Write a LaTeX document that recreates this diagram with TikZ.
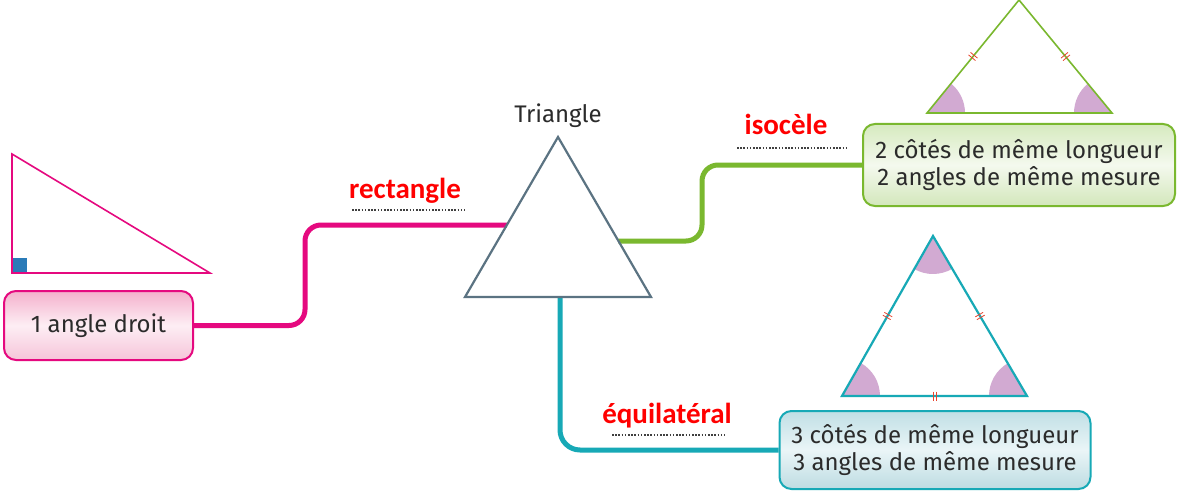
\documentclass[tikz,border=0pt]{standalone}
\usepackage{fontspec}
\setmainfont{Fira Sans}
\newfontfamily\labfont{Carlito}
\usetikzlibrary{calc}
\definecolor{pinkc}{HTML}{E5097F}
\definecolor{pinkt}{HTML}{F4B0CC}
\definecolor{pinkm}{HTML}{FDEEF4}
\definecolor{pinkb}{HTML}{F6C4D9}
\definecolor{greenc}{HTML}{7AB82F}
\definecolor{greent}{HTML}{D6EABF}
\definecolor{greenm}{HTML}{F4F9EE}
\definecolor{greenb}{HTML}{D3E7BB}
\definecolor{tealc}{HTML}{17A9B6}
\definecolor{tealt}{HTML}{C0DFE5}
\definecolor{tealm}{HTML}{EAF5F7}
\definecolor{tealb}{HTML}{BDDCE2}
\definecolor{trig}{HTML}{5B7382}
\definecolor{angc}{HTML}{D2AAD2}
\definecolor{tickc}{HTML}{E8442E}
\definecolor{sqc}{HTML}{2A7BB8}
\definecolor{txt}{HTML}{2B2B2B}
\definecolor{labred}{HTML}{FF0000}
\tikzset{
  box/.style={rounded corners=12, line width=2, text=txt, align=center,
    font=\fontsize{24}{27.5}\selectfont, inner sep=0},
  pinkbox/.style={box, draw=pinkc, top color=pinkt, bottom color=pinkb, middle color=pinkm},
  greenbox/.style={box, draw=greenc, top color=greent, bottom color=greenb, middle color=greenm},
  tealbox/.style={box, draw=tealc, top color=tealt, bottom color=tealb, middle color=tealm},
  conn/.style={line width=5, rounded corners=16},
  lab/.style={text=labred, font=\labfont\bfseries\fontsize{29}{32}\selectfont, anchor=base, inner sep=0},
  dotline/.style={line width=1.6, dash pattern=on 1.6 off 1.6, black!75},
  angfill/.style={fill=angc},
  dtick/.pic={\draw[tickc, line width=0.8] (-1.6,-4.5)--(-1.6,4.5) (1.6,-4.5)--(1.6,4.5);}
}
\begin{document}
\begin{tikzpicture}[x=1pt,y=-1pt]
\useasboundingbox[fill=white] (0,0) rectangle (1177,492);

% main triangle
\coordinate (T1) at (558,137);
\coordinate (T2) at (465,297);
\coordinate (T3) at (651,297);
\coordinate (tl) at ($(T2)!0.45!(T1)$);
\coordinate (tr) at ($(T3)!0.35!(T1)$);
\coordinate (tb) at (560,297);
\node[font=\fontsize{24}{28}\selectfont, text=txt, anchor=base, inner sep=0] (title) at (558,123) {Triangle};

% boxes
\node[pinkbox, minimum width=189, minimum height=69] (rbox) at (98.5,325.5) {1 angle droit};
\node[greenbox, minimum width=312, minimum height=82] (gbox) at (1019,165) {2 côtés de même longueur\\2 angles de même mesure};
\node[tealbox, minimum width=311, minimum height=78] (tbox) at (935,450) {3 côtés de même longueur\\3 angles de même mesure};

% connectors
\draw[conn, pinkc] (rbox.east) -- (305,325.5) -- (305,225) -- (tl);
\draw[conn, greenc] (tr) -- (702,241) -- (702,165) -- (gbox.west);
\draw[conn, tealc, rounded corners=20] (tb) -- (560,450) -- (tbox.west);

\draw[trig, line width=2.2, line join=miter] (T1) -- (T2) -- (T3) -- cycle;

% labels
\node[lab] (lrect) at (405,198) {rectangle};
\draw[dotline] (352,210) -- (465,210);
\node[lab] (liso) at (786,135) {isocèle};
\draw[dotline] (737,148) -- (848,148);
\node[lab] (lequi) at (667,423) {équilatéral};
\draw[dotline] (612,435) -- (725,435);

% right triangle
\fill[sqc] (12,258) rectangle (27,273);
\draw[pinkc, line width=1.6, line join=miter] (12,154) -- (12,273) -- (210,273) -- cycle;

% isosceles triangle
\coordinate (I1) at (1019,0);
\coordinate (I2) at (927,113);
\coordinate (I3) at (1112,113);
\fill[angfill] (I2) -- ++(0:38) arc[start angle=0, end angle=-50.8, radius=38] -- cycle;
\fill[angfill] (I3) -- ++(180:38) arc[start angle=-180, end angle=-129.5, radius=38] -- cycle;
\draw[greenc, line width=1.6, line join=miter] (I1) -- (I2) -- (I3) -- cycle;
\pic[rotate=50.8] at ($(I2)!0.5!(I1)$) {dtick};
\pic[rotate=-50.5] at ($(I3)!0.5!(I1)$) {dtick};

% equilateral triangle
\coordinate (E1) at (933,236);
\coordinate (E2) at (842,396);
\coordinate (E3) at (1027,396);
\fill[angfill] (E2) -- ++(0:38) arc[start angle=0, end angle=-60.4, radius=38] -- cycle;
\fill[angfill] (E3) -- ++(180:38) arc[start angle=-180, end angle=-120.4, radius=38] -- cycle;
\fill[angfill] (E1) -- ++(59.6:38) arc[start angle=59.6, end angle=119.6, radius=38] -- cycle;
\draw[tealc, line width=2.2, line join=miter] (E1) -- (E2) -- (E3) -- cycle;
\pic[rotate=60.4] at ($(E2)!0.5!(E1)$) {dtick};
\pic[rotate=-59.6] at ($(E3)!0.5!(E1)$) {dtick};
\pic at ($(E2)!0.5!(E3)$) {dtick};
\end{tikzpicture}
\end{document}
